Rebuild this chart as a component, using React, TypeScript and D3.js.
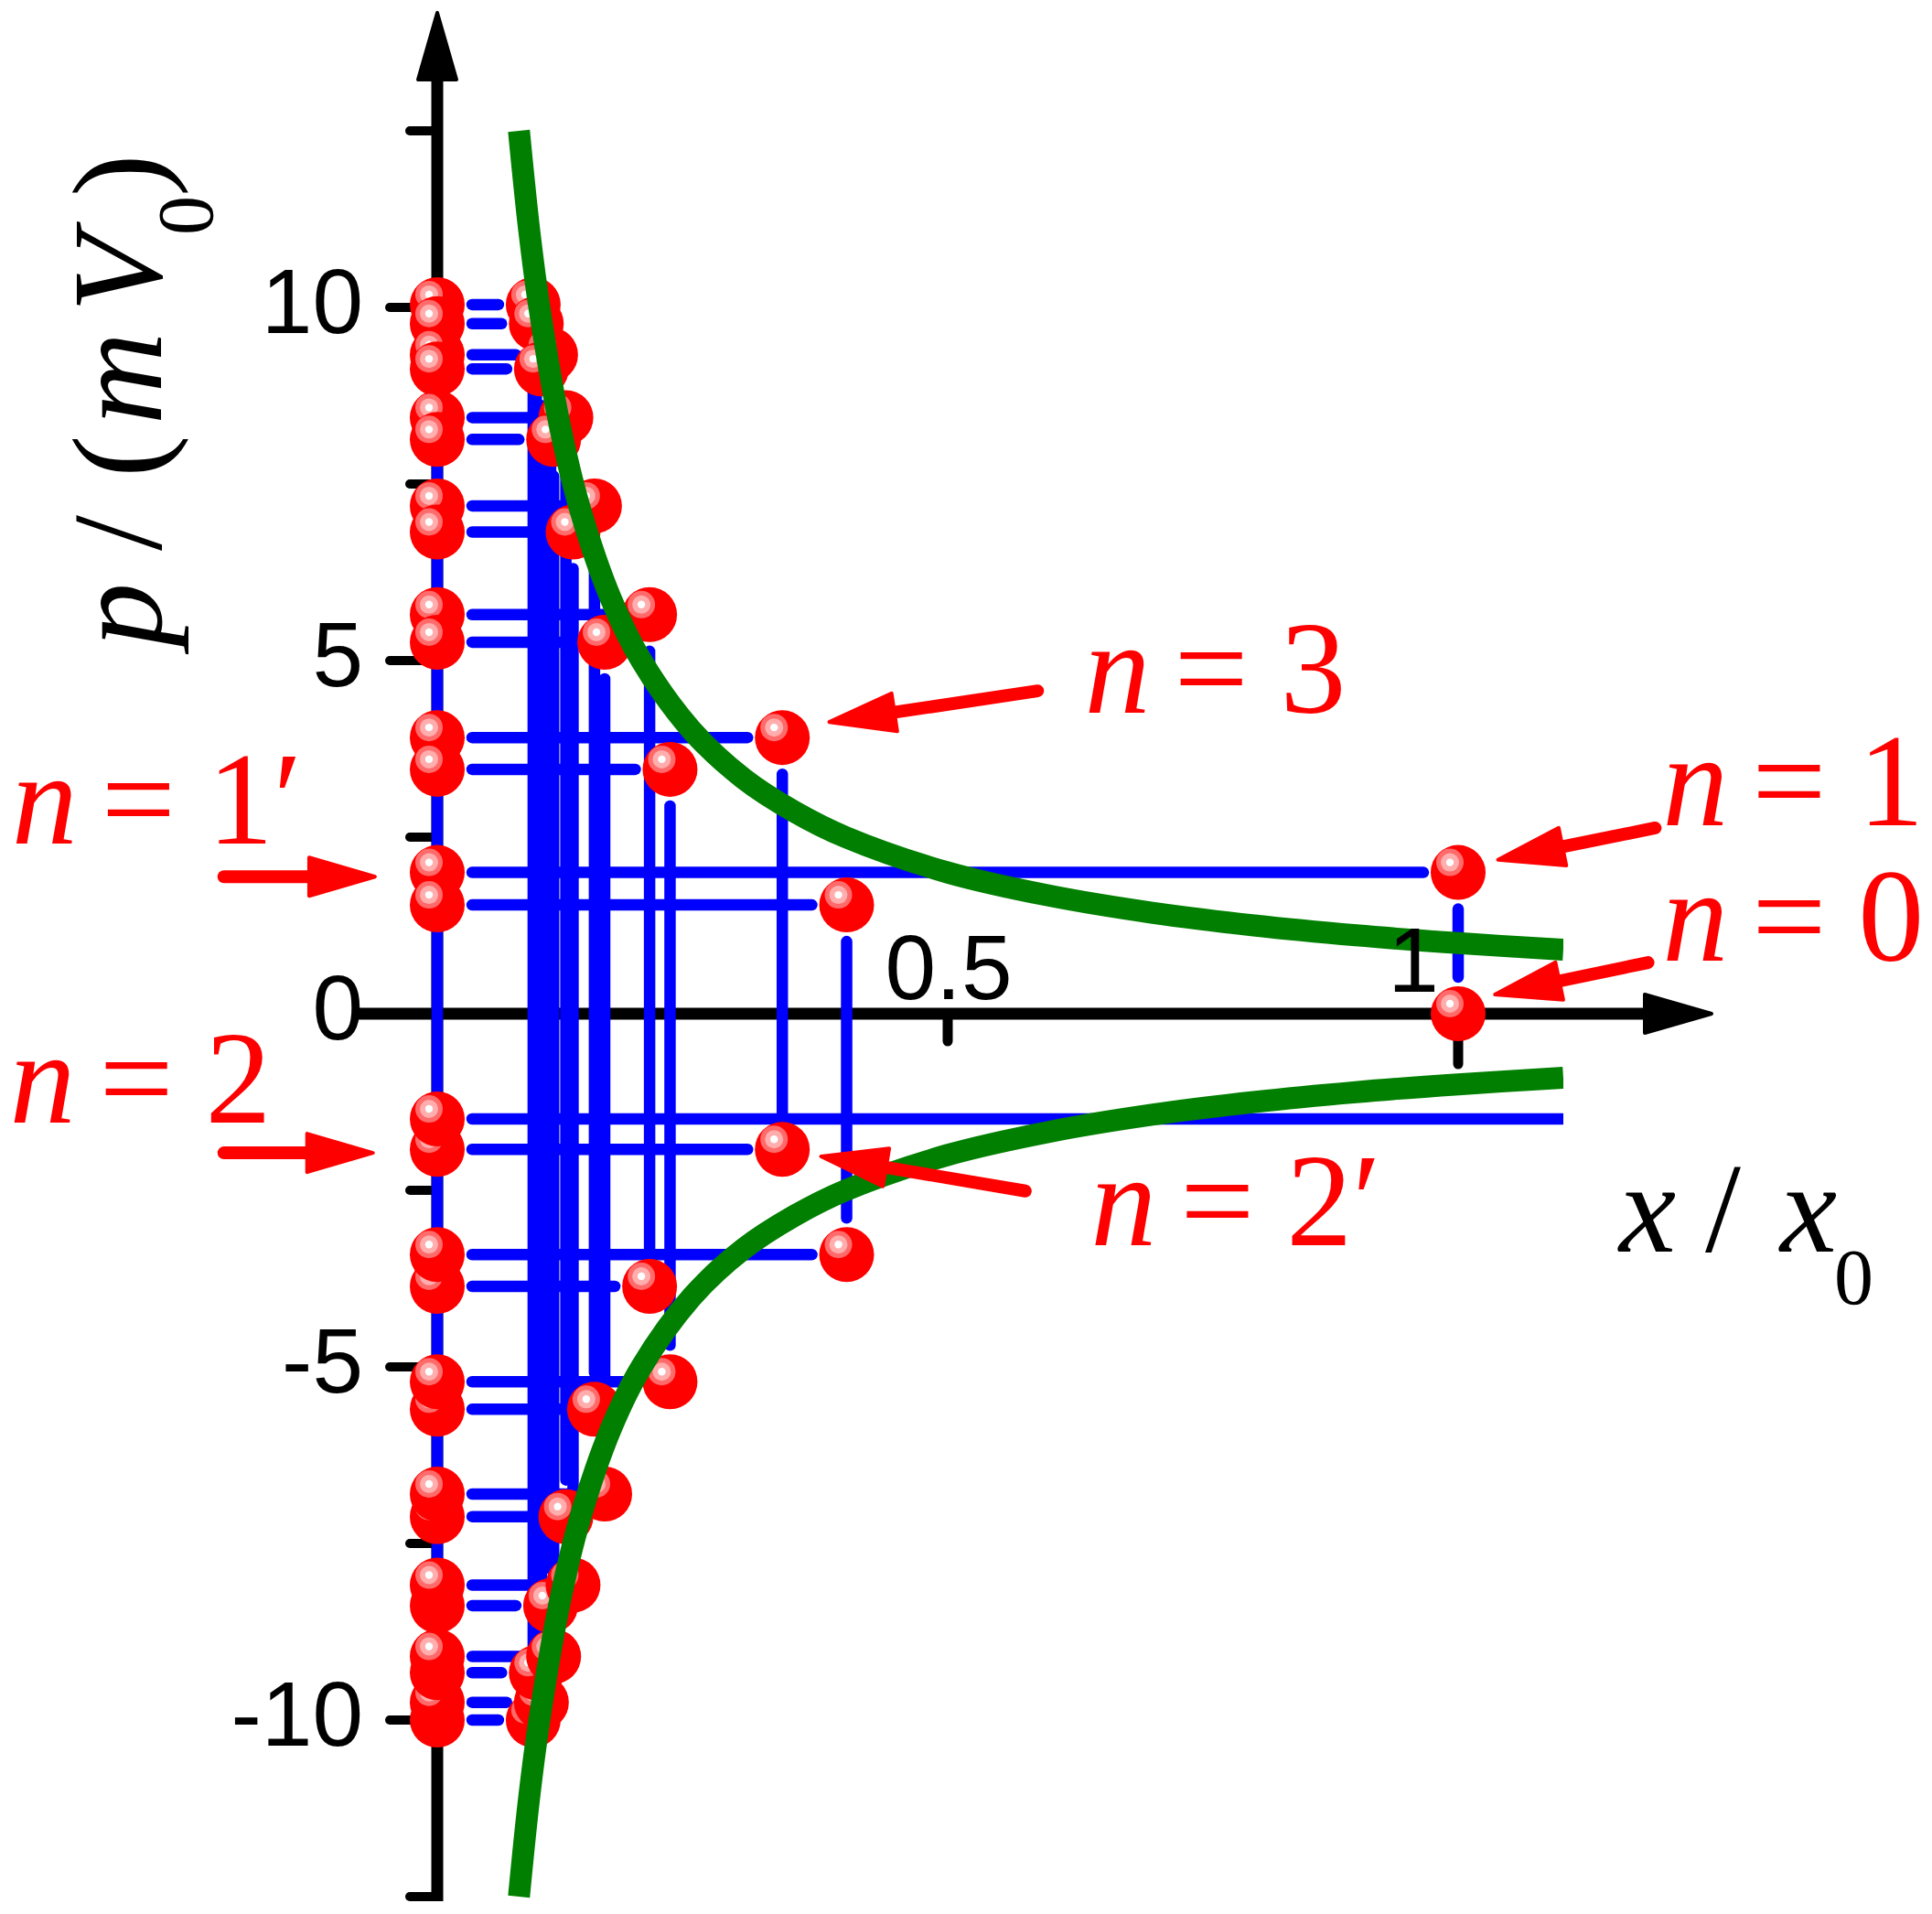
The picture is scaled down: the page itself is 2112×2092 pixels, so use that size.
import React from 'react';
import * as d3 from 'd3';

// ---------- data ----------
// pairs of states sharing one position x: upper and lower momentum
const pairX = [1.0, 0.401, 0.338, 0.228, 0.208, 0.164, 0.154, 0.133, 0.126, 0.114, 0.111, 0.102, 0.097, 0.094];
const pairTop = [2.0, 1.54, 3.91, 3.46, 5.65, 5.26, 7.19, 6.82, 8.44, 8.13, 9.33, 9.13, 9.77, 10.04];
const pairBottom = [0.0, -3.41, -1.92, -5.21, -3.86, -6.8, -5.6, -8.09, -7.12, -9.1, -8.38, -9.75, -9.33, -10.0];
// momentum line whose state lies beyond the right edge
const openLineP = [-1.49];

// green boundary curves
const curveX = [0.08, 0.09, 0.1, 0.12, 0.14, 0.17, 0.2, 0.25, 0.3, 0.35, 0.4, 0.5, 0.6, 0.7, 0.8, 0.9, 1.0, 1.103];
const upperCurveP = [12.5, 11.1, 10.0, 8.33, 7.14, 5.88, 5.0, 4.0, 3.33, 2.86, 2.5, 2.0, 1.67, 1.43, 1.25, 1.11, 1.0, 0.907];
const lowerCurveP = [-12.5, -11.1, -10.0, -8.33, -7.14, -5.88, -5.0, -4.0, -3.33, -2.86, -2.5, -2.0, -1.67, -1.43, -1.25, -1.11, -1.0, -0.907];

const yTicks = [-12.5, -10, -7.5, -5, -2.5, 0, 2.5, 5, 7.5, 10, 12.5];
const yTickLabels = [-10, -5, 0, 5, 10];
const xTickValues = [0.5, 1];
const xTickLabels = ['0.5', '1'];

// annotations (data units)
const annLabels = ['3', '1', '0', "1\u2032", '2', "2\u2032"];
const annTextX = [0.634, 1.2, 1.2, -0.417, -0.419, 0.64];
const annTextP = [4.26, 2.67, 0.75, 2.41, -1.54, -3.28];
const annTail = [[0.588, 4.57], [1.193, 2.63], [1.186, 0.725], [-0.209, 1.94], [-0.209, -1.97], [0.576, -2.51]];
const annTip = [[0.384, 4.13], [1.039, 2.18], [1.036, 0.272], [-0.061, 1.94], [-0.063, -1.97], [0.376, -2.02]];

// ---------- layout ----------
const W = 2112;
const H = 2092;
const xScale = d3.scaleLinear().domain([0, 1]).range([478, 1594]);
const yScale = d3.scaleLinear().domain([-12.5, 12.5]).range([2073, 143]);

const BLUE = '#0000ff';
const RED = '#ff0000';
const GREEN = '#007f00';
const R = 30;
const GAP = 38;

function Ball({ cx, cy }: { cx: number; cy: number }) {
  return (
    <g transform={`translate(${cx},${cy})`}>
      <circle r={R} fill={RED} />
      <circle cx={-9} cy={-11} r={15} fill="#ff6a6a" />
      <circle cx={-9} cy={-11} r={10} fill="#ffadad" />
      <circle cx={-9} cy={-11} r={4.2} fill="#ffffff" />
    </g>
  );
}

function Arrow({ x1, y1, x2, y2, color }: { x1: number; y1: number; x2: number; y2: number; color: string }) {
  const dx = x2 - x1;
  const dy = y2 - y1;
  const len = Math.hypot(dx, dy);
  const ux = dx / len;
  const uy = dy / len;
  const nx = -uy;
  const ny = ux;
  const hl = 72;
  const hw = 21;
  const bx = x2 - ux * hl;
  const by = y2 - uy * hl;
  return (
    <g>
      <line x1={x1} y1={y1} x2={bx + ux * 6} y2={by + uy * 6} stroke={color} strokeWidth={14} strokeLinecap="round" />
      <polygon
        points={`${x2},${y2} ${bx + nx * hw},${by + ny * hw} ${bx - nx * hw},${by - ny * hw}`}
        fill={color}
        stroke={color}
        strokeWidth={4}
        strokeLinejoin="round"
      />
    </g>
  );
}

export default function App() {
  const x0 = xScale(0);
  const xEnd = xScale(1.103);

  // all balls: off-axis states and their projections onto the p axis
  type B = { x: number; p: number };
  const balls: B[] = [];
  pairX.forEach((x, i) => {
    balls.push({ x, p: pairTop[i] });
    balls.push({ x, p: pairBottom[i] });
    balls.push({ x: 0, p: pairTop[i] });
    if (pairBottom[i] !== 0) balls.push({ x: 0, p: pairBottom[i] });
  });
  openLineP.forEach((p) => balls.push({ x: 0, p }));
  balls.sort((a, b) => Math.abs(b.p) - Math.abs(a.p));

  const allP = [...pairTop, ...pairBottom.filter((p) => p !== 0), ...openLineP];
  const pMax = d3.max(allP) as number;
  const pMin = d3.min(allP) as number;

  const line = d3
    .line<number>()
    .x((_, i) => xScale(curveX[i]))
    .curve(d3.curveCatmullRom.alpha(0.5));
  const upperPath = line.y((_, i) => yScale(upperCurveP[i]))(curveX) as string;
  const lowerPath = line.y((_, i) => yScale(lowerCurveP[i]))(curveX) as string;

  const axY = yScale(0);
  const serif = '"Liberation Serif", "Times New Roman", serif';
  const sans = '"Liberation Sans", Arial, sans-serif';

  return (
    <svg
      width={W}
      height={H}
      viewBox={`0 0 ${W} ${H}`}
      style={{ position: 'absolute', left: 0, top: 0, background: '#ffffff' }}
    >
      <defs>
        <clipPath id="plotClip">
          <rect x={0} y={0} width={xEnd} height={H} />
        </clipPath>
      </defs>
      <rect x={0} y={0} width={W} height={H} fill="#ffffff" />

      {/* y axis */}
      <line x1={x0} y1={yScale(-12.5) + 5} x2={x0} y2={60} stroke="#000" strokeWidth={13} />
      <polygon points={`${x0},14 ${x0 - 21},87 ${x0 + 21},87`} fill="#000" stroke="#000" strokeWidth={4} strokeLinejoin="round" />
      {yTicks.map((t) => {
        const major = t % 5 === 0;
        return (
          <line
            key={`yt${t}`}
            x1={x0 - (major ? 52 : 30)}
            x2={x0}
            y1={yScale(t)}
            y2={yScale(t)}
            stroke="#000"
            strokeWidth={10}
            strokeLinecap="round"
          />
        );
      })}

      {/* x axis */}
      <line x1={392} y1={axY} x2={1810} y2={axY} stroke="#000" strokeWidth={13} />
      <polygon points={`1871,${axY} 1798,${axY - 21} 1798,${axY + 21}`} fill="#000" stroke="#000" strokeWidth={4} strokeLinejoin="round" />
      {xTickValues.map((t) => (
        <line
          key={`xt${t}`}
          x1={xScale(t)}
          x2={xScale(t)}
          y1={axY}
          y2={axY + (t === 1 ? 55 : 30)}
          stroke="#000"
          strokeWidth={11}
          strokeLinecap="round"
        />
      ))}

      {/* blue construction lines */}
      <g clipPath="url(#plotClip)" stroke={BLUE} strokeWidth={12.5} strokeLinecap="round">
        <line x1={x0} x2={x0} y1={yScale(pMax)} y2={yScale(pMin)} />
        {pairX.map((x, i) => (
          <g key={`h${i}`}>
            <line x1={x0 + GAP} x2={xScale(x) - GAP} y1={yScale(pairTop[i])} y2={yScale(pairTop[i])} />
            {pairBottom[i] !== 0 && (
              <line x1={x0 + GAP} x2={xScale(x) - GAP} y1={yScale(pairBottom[i])} y2={yScale(pairBottom[i])} />
            )}
            <line x1={xScale(x)} x2={xScale(x)} y1={yScale(pairTop[i]) + 40} y2={yScale(pairBottom[i]) - 40} />
          </g>
        ))}
        {openLineP.map((p, i) => (
          <line key={`o${i}`} x1={x0 + GAP} x2={xEnd + 20} y1={yScale(p)} y2={yScale(p)} />
        ))}
      </g>

      {/* balls */}
      {balls.map((b, i) => (
        <Ball key={`b${i}`} cx={xScale(b.x)} cy={yScale(b.p)} />
      ))}

      {/* green curves */}
      <g clipPath="url(#plotClip)" fill="none" stroke={GREEN} strokeWidth={24}>
        <path d={upperPath} />
        <path d={lowerPath} />
      </g>

      {/* tick labels */}
      <g fontFamily={sans} fontSize={100} fill="#000">
        {yTickLabels.map((t) => (
          <text key={`yl${t}`} x={397} y={yScale(t) + 28} textAnchor="end">
            {t < 0 ? `-${Math.abs(t)}` : `${t}`}
          </text>
        ))}
        <text x={xScale(xTickValues[0]) + 1} y={1092} textAnchor="middle">
          {xTickLabels[0]}
        </text>
        <text x={xScale(xTickValues[1]) - 49} y={1084} textAnchor="middle">
          {xTickLabels[1]}
        </text>
      </g>

      {/* y axis title: p / (m V0) */}
      <g transform={`translate(176,707) rotate(-90)`} fontFamily={serif} fontSize={140} fill="#000">
        <text x={0} y={0} fontStyle="italic">p</text>
        <text x={105} y={0}>/</text>
        <text x={185} y={0}>(</text>
        <text x={243} y={0} fontStyle="italic">m</text>
        <text x={366} y={0} fontStyle="italic">V</text>
        <text x={450} y={56} fontSize={86}>0</text>
        <text x={492} y={0}>)</text>
      </g>

      {/* x axis title: x / x0 */}
      <g fontFamily={serif} fontSize={140} fill="#000">
        <text x={1770} y={1368} fontStyle="italic">x</text>
        <text x={1864} y={1368}>/</text>
        <text x={1946} y={1368} fontStyle="italic">x</text>
        <text x={2005} y={1425} fontSize={86}>0</text>
      </g>

      {/* annotations */}
      {annLabels.map((lab, i) => {
        const tx = xScale(annTextX[i]);
        const ty = yScale(annTextP[i]);
        return (
          <g key={`a${i}`}>
            <Arrow
              x1={xScale(annTail[i][0])}
              y1={yScale(annTail[i][1])}
              x2={xScale(annTip[i][0])}
              y2={yScale(annTip[i][1])}
              color={RED}
            />
            <g fontFamily={serif} fontSize={144} fill={RED}>
              <text x={tx} y={ty} fontStyle="italic">n</text>
              <text x={tx + 98} y={ty}>=</text>
              <text x={tx + 214} y={ty}>{lab}</text>
            </g>
          </g>
        );
      })}
    </svg>
  );
}
